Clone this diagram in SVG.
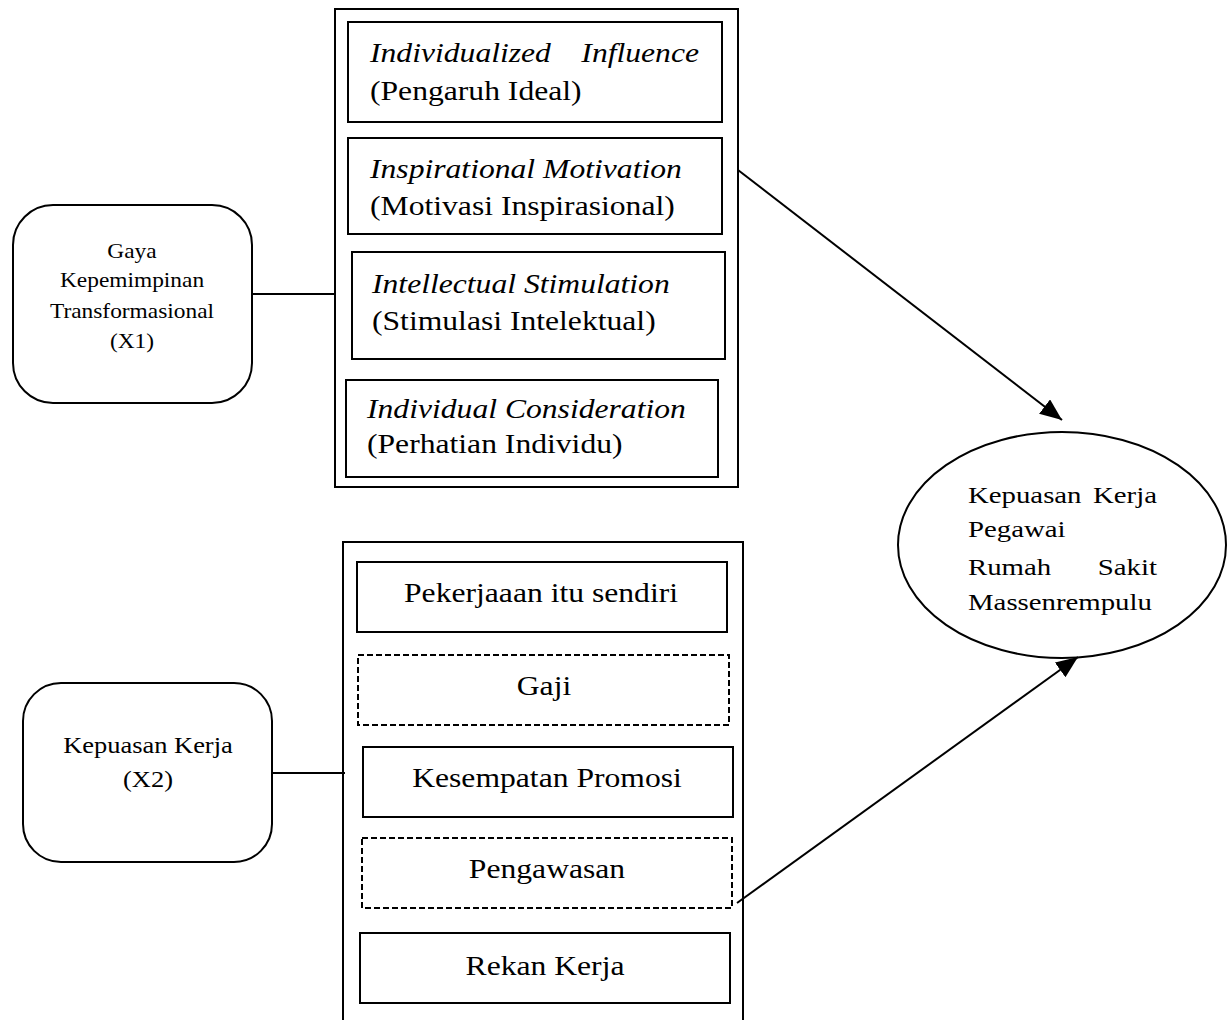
<svg xmlns="http://www.w3.org/2000/svg" width="1230" height="1020" viewBox="0 0 1230 1020">
<style>
  .box { fill: #fff; stroke: #000; stroke-width: 2; }
  .dash { fill: #fff; stroke: #000; stroke-width: 2; stroke-dasharray: 6 3; }
  .outer { fill: none; stroke: #000; stroke-width: 2; }
  .t { font-family: "Liberation Serif", "Times New Roman", serif; fill: #000; }
  .big { font-size: 28px; }
  .ell { font-size: 24px; }
  .sm { font-size: 20px; }
  .sm2 { font-size: 23px; }
  .i { font-style: italic; }
  .c { text-anchor: middle; }
  .e { text-anchor: end; }
  .conn { stroke: #000; stroke-width: 2; fill: none; }
</style>
<defs>
  <marker id="ah" markerUnits="userSpaceOnUse" markerWidth="24" markerHeight="20" refX="22" refY="9" orient="auto">
    <path d="M0,0 L22,9 L0,18 Z" fill="#000"/>
  </marker>
</defs>
<rect width="1230" height="1020" fill="#fff"/>

<g id="x1-group">
  <rect class="outer" x="335" y="9" width="403" height="478"/>
  <g id="ii">
    <rect class="box" x="348" y="22" width="374" height="100"/>
    <text class="t big i" transform="translate(370,62) scale(1.13,1)">Individualized</text>
    <text class="t big i e" transform="translate(699,62) scale(1.13,1)">Influence</text>
    <text class="t big" transform="translate(370,100) scale(1.13,1)">(Pengaruh Ideal)</text>
  </g>
  <g id="im">
    <rect class="box" x="348" y="138" width="374" height="96"/>
    <text class="t big i" transform="translate(370,178) scale(1.13,1)">Inspirational Motivation</text>
    <text class="t big" transform="translate(370,215) scale(1.13,1)">(Motivasi Inspirasional)</text>
  </g>
  <g id="is">
    <rect class="box" x="352" y="252" width="373" height="107"/>
    <text class="t big i" transform="translate(372,293) scale(1.13,1)">Intellectual Stimulation</text>
    <text class="t big" transform="translate(372,330) scale(1.13,1)">(Stimulasi Intelektual)</text>
  </g>
  <g id="ic">
    <rect class="box" x="346" y="380" width="372" height="97"/>
    <text class="t big i" transform="translate(367,418) scale(1.13,1)">Individual Consideration</text>
    <text class="t big" transform="translate(367,453) scale(1.13,1)">(Perhatian Individu)</text>
  </g>
</g>

<g id="x2-group">
  <path class="outer" d="M343,1020 L343,542 L743,542 L743,1020"/>
  <g id="pekerjaan">
    <rect class="box" x="357" y="562" width="370" height="70"/>
    <text class="t big c" transform="translate(541,602) scale(1.13,1)">Pekerjaaan itu sendiri</text>
  </g>
  <g id="gaji">
    <rect class="dash" x="358" y="655" width="371" height="70"/>
    <text class="t big c" transform="translate(544,695) scale(1.13,1)">Gaji</text>
  </g>
  <g id="promosi">
    <rect class="box" x="363" y="747" width="370" height="70"/>
    <text class="t big c" transform="translate(547,787) scale(1.13,1)">Kesempatan Promosi</text>
  </g>
  <g id="pengawasan">
    <rect class="dash" x="362" y="838" width="370" height="70"/>
    <text class="t big c" transform="translate(547,878) scale(1.13,1)">Pengawasan</text>
  </g>
  <g id="rekan">
    <rect class="box" x="360" y="933" width="370" height="70"/>
    <text class="t big c" transform="translate(545,975) scale(1.13,1)">Rekan Kerja</text>
  </g>
</g>

<g id="x1">
  <rect class="box" x="13" y="205" width="239" height="198" rx="40" ry="40"/>
  <text class="t sm c" transform="translate(132,258) scale(1.17,1)">Gaya</text>
  <text class="t sm c" transform="translate(132,287) scale(1.17,1)">Kepemimpinan</text>
  <text class="t sm c" transform="translate(132,318) scale(1.17,1)">Transformasional</text>
  <text class="t sm c" transform="translate(132,348) scale(1.17,1)">(X1)</text>
</g>

<g id="x2">
  <rect class="box" x="23" y="683" width="249" height="179" rx="38" ry="38"/>
  <text class="t sm2 c" transform="translate(148,753) scale(1.15,1)">Kepuasan Kerja</text>
  <text class="t sm2 c" transform="translate(148,787) scale(1.15,1)">(X2)</text>
</g>

<g id="y">
  <ellipse class="box" cx="1062" cy="545" rx="164" ry="113"/>
  <text class="t ell" transform="translate(968,503) scale(1.2,1)">Kepuasan</text>
  <text class="t ell e" transform="translate(1157,503) scale(1.2,1)">Kerja</text>
  <text class="t ell" transform="translate(968,537) scale(1.2,1)">Pegawai</text>
  <text class="t ell" transform="translate(968,575) scale(1.2,1)">Rumah</text>
  <text class="t ell e" transform="translate(1157,575) scale(1.2,1)">Sakit</text>
  <text class="t ell" transform="translate(968,610) scale(1.2,1)">Massenrempulu</text>
</g>

<g id="connectors">
  <line class="conn" x1="252" y1="294" x2="335" y2="294"/>
  <line class="conn" x1="272" y1="773" x2="345" y2="773"/>
  <line class="conn" x1="738" y1="170" x2="1062" y2="420" marker-end="url(#ah)"/>
  <line class="conn" x1="737" y1="903" x2="1078" y2="657" marker-end="url(#ah)"/>
</g>
</svg>
